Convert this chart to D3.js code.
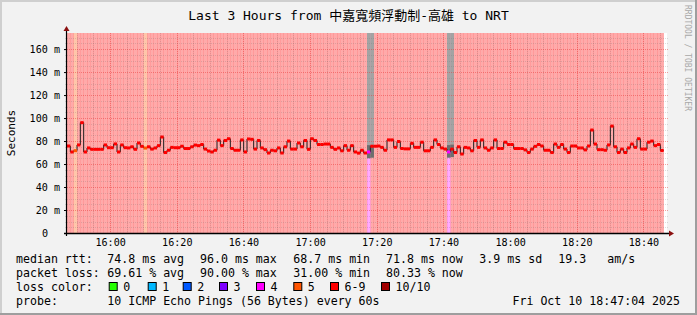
<!DOCTYPE html>
<html lang="en">
<head>
<meta charset="UTF-8">
<title>Last 3 Hours to NRT</title>
<script src="https://d3js.org/d3.v7.min.js"></script>
<style>
  body { margin: 0; background: #f2f2f2; }
  svg { display: block; }
  svg text { font-family: "DejaVu Sans Mono", "Noto Sans CJK TC", monospace; fill: #000; }
  .axis text { font-size: 10.1px; }
  .legend text { font-size: 11.6px; white-space: pre; }
</style>
</head>
<body>
<svg width="697" height="315"></svg>
<script>
// median rtt per minute (ms)
const median = [
  75.7, 70.5, 71.6, 76.6, 96.0, 70.5, 74.0, 72.8, 72.8, 72.8,
  72.8, 76.6, 74.2, 74.2, 77.5, 70.5, 76.6, 74.2, 74.0, 75.0,
  72.8, 78.3, 75.4, 73.9, 75.0, 73.0, 74.0, 76.0, 83.5, 70.0,
  72.0, 74.5, 74.2, 74.2, 75.5, 73.5, 73.5, 75.0, 76.5, 76.0,
  77.0, 73.0, 71.3, 70.5, 72.0, 80.8, 76.0, 80.5, 82.0, 73.5,
  72.0, 72.0, 81.0, 70.5, 81.8, 81.5, 73.0, 80.5, 74.0, 72.5,
  69.6, 72.0, 71.5, 74.0, 69.6, 75.0, 80.0, 73.0, 73.0, 78.3,
  75.0, 80.5, 72.8, 82.0, 80.5, 77.0, 77.0, 77.4, 77.4, 74.5,
  72.8, 74.0, 71.5, 76.0, 72.0, 76.0, 70.5, 69.5, 72.0, 69.6,
  70.5, 75.5, 75.5, 75.7, 74.5, 72.0, 81.0, 81.0, 74.5, 79.6,
  73.5, 73.2, 73.2, 78.0, 74.5, 74.5, 79.0, 71.5, 71.5, 74.5,
  81.0, 77.0, 74.0, 73.0, 70.5, 73.0, 70.0, 75.0, 68.7, 74.5,
  74.0, 71.5, 80.5, 74.5, 81.0, 74.0, 72.0, 74.0, 81.0, 73.5,
  73.5, 79.0, 77.0, 77.0, 73.5, 73.5, 73.5, 72.3, 70.0, 73.0,
  75.4, 77.0, 75.7, 72.0, 72.0, 70.0, 77.4, 74.5, 77.0, 73.0,
  70.0, 75.7, 75.7, 74.0, 74.0, 72.3, 75.7, 89.6, 77.4, 72.5,
  72.5, 72.0, 76.6, 93.0, 75.0, 70.0, 73.0, 70.0, 74.0, 77.4,
  74.5, 82.0, 73.0, 73.0, 79.0, 80.0, 76.0, 77.0, 71.8
];

// lost pings (of 10) per minute
const loss = [
  7, 7, 5, 7, 7, 7, 7, 7, 7, 7,
  7, 7, 7, 7, 7, 7, 7, 7, 7, 7,
  7, 7, 7, 5, 7, 7, 7, 7, 7, 7,
  7, 7, 7, 7, 7, 7, 7, 7, 7, 7,
  7, 7, 7, 7, 7, 7, 7, 7, 7, 7,
  7, 7, 7, 7, 7, 7, 7, 7, 7, 7,
  7, 7, 7, 7, 7, 7, 7, 7, 7, 7,
  7, 7, 7, 7, 7, 7, 7, 7, 7, 7,
  7, 7, 7, 7, 7, 7, 7, 7, 7, 7,
  4, 7, 7, 7, 7, 7, 7, 7, 7, 7,
  7, 7, 7, 7, 7, 7, 7, 7, 7, 7,
  7, 7, 7, 7, 4, 7, 7, 7, 7, 7,
  7, 7, 7, 7, 7, 7, 7, 7, 7, 7,
  7, 7, 7, 7, 7, 7, 7, 7, 7, 7,
  7, 7, 7, 7, 7, 7, 7, 7, 7, 7,
  7, 7, 7, 7, 7, 7, 7, 7, 7, 7,
  7, 7, 7, 7, 7, 7, 7, 7, 7, 7,
  7, 7, 7, 7, 7, 7, 7, 7, 7
];

// smoke (spread of answered pings) where visible
const smokeIdx = [90, 91, 114, 115];
const smokeLo  = [65.0, 65.5, 65.5, 66.0];
const smokeMid = [76.5, 76.0, 76.5, 77.0];
const smokeHi  = [180, 180, 180, 180];

const lossLabels = ["0", "1", "2", "3", "4", "5", "6-9", "10/10"];
const lossColors = ["#26ff00", "#00b8ff", "#0059ff", "#7e00ff", "#ff00ff", "#ff5500", "#ff0000", "#a10000"];

const rttStats  = ["74.8 ms avg", "96.0 ms max", "68.7 ms min", "71.8 ms now", "3.9 ms sd", "19.3", "am/s"];
const lossStats = ["69.61 % avg", "90.00 % max", "31.00 % min", "80.33 % now"];
const yTicks = [0, 20, 40, 60, 80, 100, 120, 140, 160];

const title = "Last 3 Hours from 中嘉寬頻浮動制-高雄 to NRT";
const probe = "10 ICMP Echo Pings (56 Bytes) every 60s";
const stamp = "Fri Oct 10 18:47:04 2025";

const svg = d3.select("svg"),
      W = 697, H = 315;
const pL = 67, pR = 667, pT = 33, pB = 233;

const t0 = new Date(Date.UTC(2025, 9, 10, 15, 47, 4)),
      t1 = new Date(Date.UTC(2025, 9, 10, 18, 47, 4));
const x = d3.scaleUtc().domain([t0, t1]).range([pL, pR]);
const y = d3.scaleLinear().domain([0, 174]).range([pB, pT]);
const tAt = i => new Date(t0.getTime() + i * 60000);
const bin = n => n >= 10 ? 7 : n >= 6 ? 6 : n;

// frame
svg.append("rect").attr("width", W).attr("height", H).attr("fill", "#f2f2f2");
svg.append("rect").attr("x", 0).attr("y", 0).attr("width", W).attr("height", 2).attr("fill", "#cfcfcf");
svg.append("rect").attr("x", 0).attr("y", 0).attr("width", 2).attr("height", H).attr("fill", "#cfcfcf");
svg.append("rect").attr("x", 0).attr("y", H - 2).attr("width", W).attr("height", 2).attr("fill", "#9e9e9e");
svg.append("rect").attr("x", W - 2).attr("y", 0).attr("width", 2).attr("height", H).attr("fill", "#9e9e9e");

// canvas
svg.append("rect").attr("x", pL).attr("y", pT)
  .attr("width", pR - pL).attr("height", pB - pT).attr("fill", "#fff");

const plot = svg.append("g");

// loss background
plot.selectAll("rect.bg").data(loss).join("rect")
  .attr("class", "bg")
  .attr("x", (d, i) => x(tAt(i)))
  .attr("width", (d, i) => x(tAt(i + 1)) - x(tAt(i)) + 0.3)
  .attr("y", pT).attr("height", pB - pT)
  .attr("fill", d => lossColors[bin(d)])
  .attr("fill-opacity", 0.333);

// smoke
const smoke = plot.append("g");
smokeIdx.forEach((k, j) => {
  const x0 = x(tAt(k)), w = x(tAt(k + 1)) - x0 + 0.3;
  const yh = Math.max(pT, y(smokeHi[j]));
  smoke.append("rect").attr("x", x0).attr("width", w)
    .attr("y", yh).attr("height", y(smokeMid[j]) - yh)
    .attr("fill", "#a3a3a3");
  smoke.append("rect").attr("x", x0).attr("width", w)
    .attr("y", y(smokeMid[j])).attr("height", y(smokeLo[j]) - y(smokeMid[j]))
    .attr("fill", "#6e6e6e");
});

// grid
const grid = svg.append("g");
const minorC = "rgba(110,110,110,0.22)", majorC = "rgba(230,50,50,0.45)";
const minorX = d3.utcMinute.every(5).range(t0, t1).filter(d => d.getUTCMinutes() % 20 !== 0);
const majorX = d3.utcMinute.every(20).range(t0, t1);
grid.selectAll("line.vx").data(minorX).join("line")
  .attr("x1", d => Math.round(x(d)) + 0.5).attr("x2", d => Math.round(x(d)) + 0.5)
  .attr("y1", pT).attr("y2", pB + 2)
  .attr("stroke", minorC).attr("stroke-dasharray", "1,1");
grid.selectAll("line.mx").data(majorX).join("line")
  .attr("x1", d => Math.round(x(d)) + 0.5).attr("x2", d => Math.round(x(d)) + 0.5)
  .attr("y1", pT).attr("y2", pB + 2)
  .attr("stroke", majorC).attr("stroke-dasharray", "1,1");
grid.selectAll("line.hy").data(d3.range(5, 175, 5)).join("line")
  .attr("x1", pL - 2).attr("x2", pR + 2)
  .attr("y1", d => Math.round(y(d)) + 0.5).attr("y2", d => Math.round(y(d)) + 0.5)
  .attr("stroke", d => d % 20 === 0 ? majorC : minorC)
  .attr("stroke-dasharray", "1,1");

// median line, then loss-coloured bands
const pts = median.map((v, i) => [tAt(i), v]);
pts.push([tAt(median.length), median[median.length - 1]]);
svg.append("path")
  .attr("d", d3.line().x(d => x(d[0])).y(d => y(d[1])).curve(d3.curveStepAfter)(pts))
  .attr("fill", "none").attr("stroke", "#202020").attr("stroke-width", 1);
svg.append("g").selectAll("rect").data(median).join("rect")
  .attr("x", (d, i) => x(tAt(i)))
  .attr("width", (d, i) => x(tAt(i + 1)) - x(tAt(i)))
  .attr("y", d => y(d) - 1.5).attr("height", 3)
  .attr("fill", (d, i) => lossColors[bin(loss[i])]);

// axes
const yAxis = svg.append("g").attr("class", "axis")
  .attr("transform", `translate(${pL},0)`)
  .call(d3.axisLeft(y).tickValues(yTicks).tickSize(3).tickPadding(4)
    .tickFormat(d => d === 0 ? "0" : d + " m"));
yAxis.select(".domain").remove();
yAxis.selectAll(".tick text").filter(d => d === 0).attr("dx", -12);
yAxis.selectAll(".tick line").attr("stroke", "#000");

const xAxis = svg.append("g").attr("class", "axis")
  .attr("transform", `translate(0,${pB})`)
  .call(d3.axisBottom(x).ticks(d3.utcMinute.every(20)).tickSize(0).tickPadding(6)
    .tickFormat(d3.utcFormat("%H:%M")));
xAxis.select(".domain").remove();

svg.append("line").attr("x1", pL - 3).attr("x2", pR + 2)
  .attr("y1", pB + 0.5).attr("y2", pB + 0.5).attr("stroke", "#000").attr("stroke-width", 1.5);
svg.append("line").attr("x1", pL - 0.5).attr("x2", pL - 0.5)
  .attr("y1", pB + 3).attr("y2", pT - 2).attr("stroke", "#000").attr("stroke-width", 1.2);
svg.append("path").attr("d", `M${pL - 0.5},${pT - 7}L${pL - 3.5},${pT - 2}L${pL + 2.5},${pT - 2}Z`)
  .attr("fill", "#8b1010");
svg.append("path").attr("d", `M${pR + 7},${pB + 0.5}L${pR + 2},${pB - 2.5}L${pR + 2},${pB + 3.5}Z`)
  .attr("fill", "#8b1010");

// titles
svg.append("text").attr("x", W / 2).attr("y", 20).attr("text-anchor", "middle")
  .style("font-size", "13px").text(title);
svg.append("text").attr("transform", "translate(15,133) rotate(-90)")
  .attr("text-anchor", "middle").style("font-size", "11px").text("Seconds");
svg.append("text").attr("transform", "translate(685,5) rotate(90)")
  .style("font-size", "8px").style("fill", "#a8a8a8").text("RRDTOOL / TOBI OETIKER");

// legend
const lg = svg.append("g").attr("class", "legend");
const cols = [107.3, 200, 293.3, 386, 479.3, 558.3, 607.3];
lg.append("text").attr("x", 16).attr("y", 262.5).text("median rtt:");
rttStats.forEach((s, i) => lg.append("text").attr("x", cols[i]).attr("y", 262.5).text(s));
lg.append("text").attr("x", 16).attr("y", 276.5).text("packet loss:");
lossStats.forEach((s, i) => lg.append("text").attr("x", cols[i]).attr("y", 276.5).text(s));
lg.append("text").attr("x", 16).attr("y", 290.5).text("loss color:");
const boxX = [108.7, 147.7, 182.7, 219, 256, 293.3, 330, 381];
lossLabels.forEach((s, i) => {
  lg.append("rect").attr("x", boxX[i] + 0.5).attr("y", 282.5).attr("width", 8).attr("height", 8)
    .attr("fill", lossColors[i]).attr("stroke", "#000");
  lg.append("text").attr("x", boxX[i] + 14.5).attr("y", 290.5).text(s);
});
lg.append("text").attr("x", 16).attr("y", 304.5).text("probe:");
lg.append("text").attr("x", 107.3).attr("y", 304.5).text(probe);
lg.append("text").attr("x", 680).attr("y", 304.5).attr("text-anchor", "end").text(stamp);
</script>
</body>
</html>
